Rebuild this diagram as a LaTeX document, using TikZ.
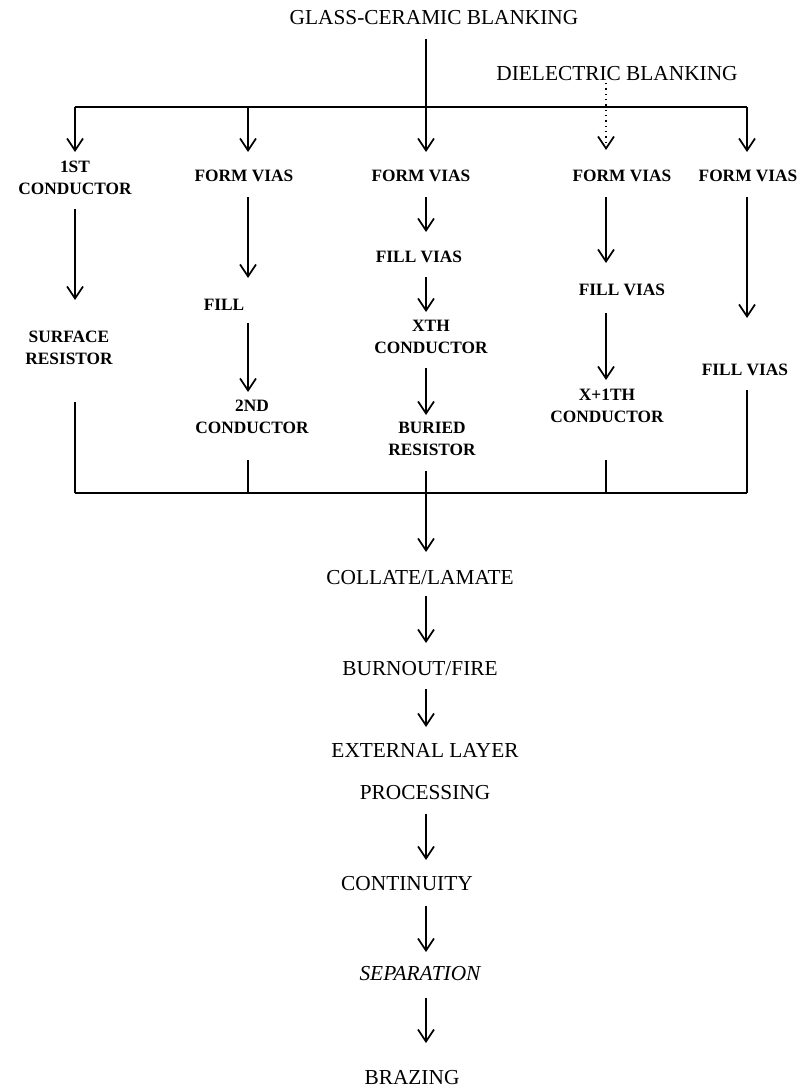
\documentclass[tikz,border=0pt]{standalone}
\usepackage{fontspec}
\setmainfont{Liberation Serif}
\usetikzlibrary{arrows.meta}

\tikzset{
  main/.style={inner sep=0pt, anchor=north, font=\fontsize{16}{19}\selectfont},
  col/.style={inner sep=0pt, anchor=north, align=center, font=\fontsize{13}{16.5}\selectfont\bfseries},
  bar/.style={line width=1.3pt},
  flow/.style={bar, -{Straight Barb[length=9pt,width=12pt,line width=1.3pt]}},
  sh/.style 2 args={shorten <=#1*0.75pt, shorten >=#2*0.75pt},
}

\begin{document}
\begin{tikzpicture}[x=0.75pt,y=-0.75pt]
  \useasboundingbox (0,0) rectangle (805,1091);
  % branch points on the two bars
  \coordinate (t1) at (75,107);  \coordinate (b1) at (75,493);
  \coordinate (t2) at (248,107); \coordinate (b2) at (248,493);
  \coordinate (t3) at (426,107); \coordinate (b3) at (426,493);
  \coordinate (t4) at (606,107); \coordinate (b4) at (606,493);
  \coordinate (t5) at (747,107); \coordinate (b5) at (747,493);

  \node[main] (glass) at (434,10) {GLASS-CERAMIC BLANKING};
  \node[main] (diel)  at (617,66) {DIELECTRIC BLANKING};
  % column 1
  \node[col] (c1a) at (75,161)  {1ST\\CONDUCTOR};
  \node[col] (c1b) at (69,331)  {SURFACE\\RESISTOR};
  % column 2
  \node[col] (c2a) at (244,170) {FORM VIAS};
  \node[col] (c2b) at (224,299) {FILL};
  \node[col] (c2c) at (252,400) {2ND\\CONDUCTOR};
  % column 3
  \node[col] (c3a) at (421,170) {FORM VIAS};
  \node[col] (c3b) at (419,251) {FILL VIAS};
  \node[col] (c3c) at (431,320) {XTH\\CONDUCTOR};
  \node[col] (c3d) at (432,422) {BURIED\\RESISTOR};
  % column 4
  \node[col] (c4a) at (622,170) {FORM VIAS};
  \node[col] (c4b) at (622,284) {FILL VIAS};
  \node[col] (c4c) at (607,389) {X+1TH\\CONDUCTOR};
  % column 5
  \node[col] (c5a) at (748,170) {FORM VIAS};
  \node[col] (c5b) at (745,364) {FILL VIAS};
  % main line
  \node[main] (collate) at (420,570) {COLLATE/LAMATE};
  \node[main] (burn)    at (420,661) {BURNOUT/FIRE};
  \node[main,align=center,font=\fontsize{16}{31.5}\selectfont] (ext) at (425,743) {EXTERNAL LAYER\\PROCESSING};
  \node[main] (cont)    at (407,876) {CONTINUITY};
  \node[main,font=\fontsize{16}{19}\selectfont\itshape] (sep) at (420,966) {SEPARATION};
  \node[main] (braz)    at (412,1070) {BRAZING};

  \draw[bar] (t1) -- (t5);
  \draw[bar] (b1) -- (b5);
  % column 1
  \draw[flow,sh={0}{9}]   (t1) -- (c1a.north -| t1);
  \draw[flow,sh={14}{31}] (c1a.south -| t1) -- (c1b.north -| t1);
  \draw[bar,sh={37}{0}]   (c1b.south -| b1) -- (b1);
  % column 2
  \draw[flow,sh={0}{18}]  (t2) -- (c2a.north -| t2);
  \draw[flow,sh={15}{21}] (c2a.south -| t2) -- (c2b.north -| t2);
  \draw[flow,sh={12}{8}]  (c2b.south -| t2) -- (c2c.north -| t2);
  \draw[bar,sh={26}{0}]   (c2c.south -| b2) -- (b2);
  % column 3
  \draw[flow,sh={14}{18}] (glass.south -| t3) -- (c3a.north -| t3);
  \draw[flow,sh={15}{19}] (c3a.south -| t3) -- (c3b.north -| t3);
  \draw[flow,sh={14}{8}]  (c3b.south -| t3) -- (c3c.north -| t3);
  \draw[flow,sh={14}{7}]  (c3c.south -| t3) -- (c3d.north -| t3);
  \draw[flow,sh={15}{18}] (c3d.south -| t3) -- (collate.north -| t3);
  % column 4
  \draw[flow,sh={2}{20},dash pattern=on 1.2pt off 2.8pt] (diel.south -| t4) -- (c4a.north -| t4);
  \draw[flow,sh={15}{21}] (c4a.south -| t4) -- (c4b.north -| t4);
  \draw[flow,sh={17}{9}]  (c4b.south -| t4) -- (c4c.north -| t4);
  \draw[bar,sh={37}{0}]   (c4c.south -| b4) -- (b4);
  % column 5
  \draw[flow,sh={0}{18}]  (t5) -- (c5a.north -| t5);
  \draw[flow,sh={15}{46}] (c5a.south -| t5) -- (c5b.north -| t5);
  \draw[bar,sh={14}{0}]   (c5b.south -| b5) -- (b5);
  % main line
  \draw[flow,sh={11}{18}] (collate.south -| t3) -- (burn.north -| t3);
  \draw[flow,sh={13}{16}] (burn.south -| t3) -- (ext.north -| t3);
  \draw[flow,sh={14}{16}] (ext.south -| t3) -- (cont.north -| t3);
  \draw[flow,sh={15}{14}] (cont.south -| t3) -- (sep.north -| t3);
  \draw[flow,sh={17}{27}] (sep.south -| t3) -- (braz.north -| t3);
\end{tikzpicture}
\end{document}
